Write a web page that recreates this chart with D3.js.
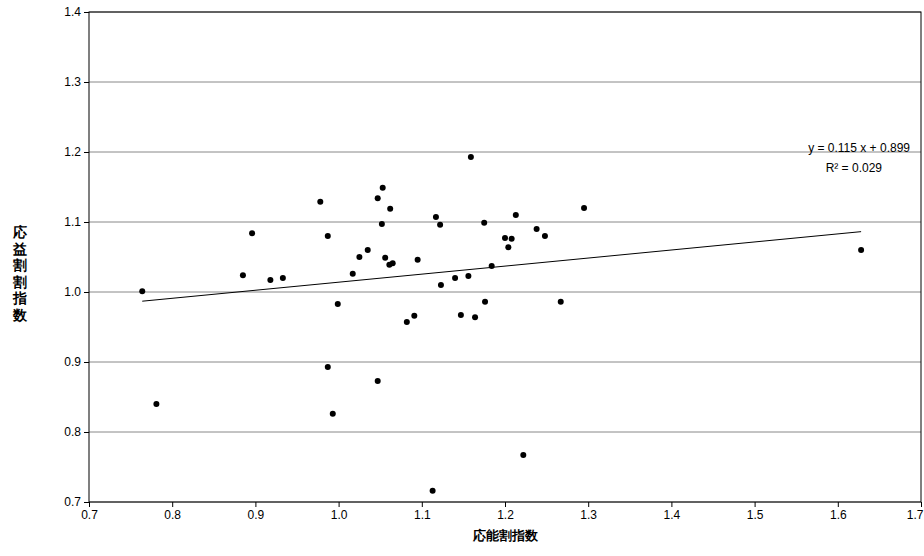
<!DOCTYPE html>
<html><head><meta charset="utf-8">
<script src="https://cdn.jsdelivr.net/npm/d3@7"></script>
<style>body{margin:0;background:#fff}text{font-family:"Liberation Sans",Arial,sans-serif}</style>
</head><body><svg id="c" width="924" height="556"></svg>
<script>
// data
var xs = [0.764,0.781,0.885,0.896,0.918,0.933,0.978,0.987,0.987,0.993,0.999,1.017,1.025,1.035,1.047,1.047,1.053,1.052,1.056,1.061,1.062,1.065,1.082,1.091,1.095,1.113,1.117,1.122,1.123,1.140,1.147,1.156,1.159,1.164,1.175,1.176,1.184,1.200,1.204,1.208,1.213,1.222,1.238,1.248,1.267,1.295,1.628];
var ys = [1.001,0.840,1.024,1.084,1.017,1.020,1.129,1.080,0.893,0.826,0.983,1.026,1.050,1.060,1.134,0.873,1.149,1.097,1.049,1.039,1.119,1.041,0.957,0.966,1.046,0.716,1.107,1.096,1.010,1.020,0.967,1.023,1.193,0.964,1.099,0.986,1.037,1.077,1.064,1.076,1.110,0.767,1.090,1.080,0.986,1.120,1.060];
var slope = 0.115, intercept = 0.899;
var xTicks = [0.7,0.8,0.9,1.0,1.1,1.2,1.3,1.4,1.5,1.6,1.7];
var yTicks = [0.7,0.8,0.9,1.0,1.1,1.2,1.3,1.4];

var svg = d3.select("#c");
var L = 89, R = 921, T = 12, B = 502;
var x = d3.scaleLinear().domain([0.7,1.7]).range([L,R]);
var y = d3.scaleLinear().domain([0.7,1.4]).range([B,T]);

svg.append("g").selectAll("line").data(yTicks).enter().append("line")
	.attr("x1", L).attr("x2", R).attr("y1", d => y(d)).attr("y2", d => y(d))
	.attr("stroke", "#888").attr("stroke-width", 1);
svg.append("rect").attr("x", L).attr("y", T).attr("width", R-L).attr("height", B-T)
	.attr("fill", "none").attr("stroke", "#000");

var xa = svg.append("g").attr("transform", "translate(0," + B + ")")
	.call(d3.axisBottom(x).tickValues(xTicks).tickFormat(d3.format(".1f")).tickSize(5).tickSizeOuter(0));
var ya = svg.append("g").attr("transform", "translate(" + L + ",0)")
	.call(d3.axisLeft(y).tickValues(yTicks).tickFormat(d3.format(".1f")).tickSize(5).tickSizeOuter(0));
[xa, ya].forEach(function (a) {
	a.selectAll("text").attr("font-size", 12).attr("fill", "#000");
	a.select(".domain").remove();
});
xa.selectAll(".tick text").filter(d => d === 1.7).attr("text-anchor", "end").attr("dx", 2);

var x0 = d3.min(xs), x1 = d3.max(xs);
svg.append("line").attr("x1", x(x0)).attr("x2", x(x1))
	.attr("y1", y(slope*x0+intercept)).attr("y2", y(slope*x1+intercept))
	.attr("stroke", "#000").attr("stroke-width", 1);

svg.append("g").selectAll("circle").data(xs).enter().append("circle")
	.attr("cx", d => x(d)).attr("cy", (d,i) => y(ys[i])).attr("r", 3).attr("fill", "#000");

svg.append("text").attr("x", 910).attr("y", 152).attr("text-anchor", "end")
	.attr("font-size", 12).text("y = 0.115 x + 0.899");
svg.append("text").attr("x", 882).attr("y", 172).attr("text-anchor", "end")
	.attr("font-size", 12).text("R² = 0.029");

svg.append("text").attr("x", 505).attr("y", 540).attr("text-anchor", "middle")
	.attr("font-size", 13).attr("font-weight", "bold")
	.attr("font-family", "Noto Sans CJK JP").text("応能割指数");
svg.append("g").selectAll("text").data("応益割割指数".split("")).enter().append("text")
	.attr("x", 20).attr("y", (d,i) => 237 + i*16.5).attr("text-anchor", "middle")
	.attr("font-size", 14).attr("font-weight", "bold")
	.attr("font-family", "Noto Sans CJK JP").text(d => d);
</script></body></html>
